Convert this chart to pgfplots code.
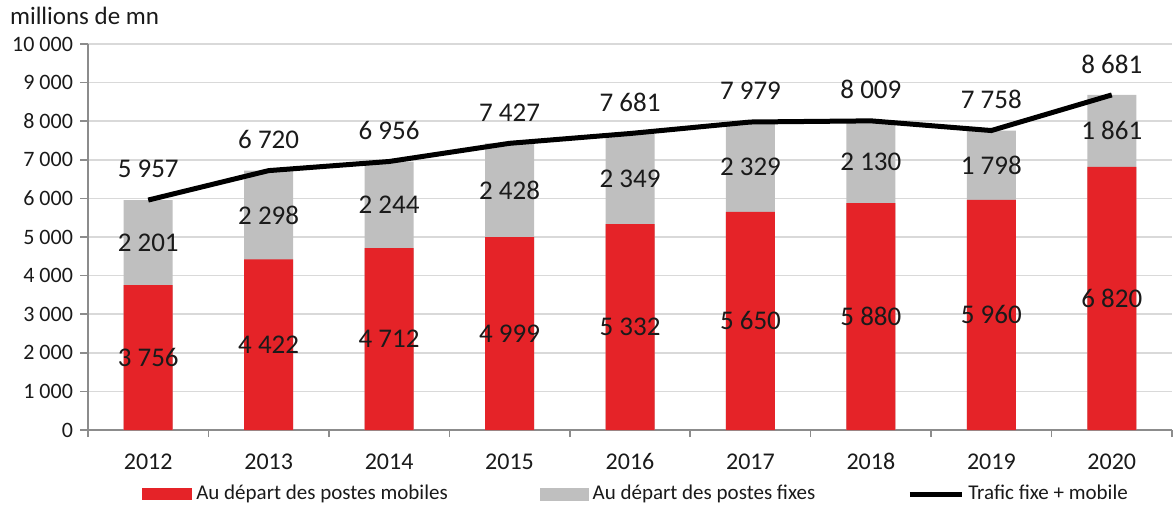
\documentclass[border=0pt]{standalone}
\usepackage{fontspec}
\setmainfont{Carlito}
\usepackage{pgfplots}
\pgfplotsset{compat=1.18}
\usepackage{pgfplotstable}
\usetikzlibrary{calc}

\definecolor{mobred}{HTML}{E52328}
\definecolor{fixgray}{HTML}{BFBFBF}
\definecolor{axgray}{HTML}{8C8C8C}
\definecolor{gridgray}{HTML}{D9D9D9}
\definecolor{txt}{HTML}{1A1A1A}

% trafic en millions de minutes
\pgfplotstableread{
x year mob fix tot
0 2012 3756 2201 5957
1 2013 4422 2298 6720
2 2014 4712 2244 6956
3 2015 4999 2428 7427
4 2016 5332 2349 7681
5 2017 5650 2329 7979
6 2018 5880 2130 8009
7 2019 5960 1798 7758
8 2020 6820 1861 8681
}\traffic

\begin{document}
\begin{tikzpicture}
\begin{axis}[
  name=ax,
  scale only axis,
  width=542pt, height=193pt,
  clip=false,
  bar width=24.5pt,
  xmin=-0.5, xmax=8.5,
  ymin=0, ymax=10000,
  ytick distance=1000,
  scaled y ticks=false,
  xtick={0,...,8},
  xticklabels={2012,2013,2014,2015,2016,2017,2018,2019,2020},
  minor xtick={-0.5,0.5,...,8.5},
  axis x line*=bottom,
  axis y line*=left,
  axis line style={-, axgray, line width=0.8pt},
  tick align=outside,
  major x tick style={draw=none},
  minor x tick style={axgray, line width=0.8pt},
  major y tick style={axgray, line width=0.8pt},
  major tick length=4pt,
  minor tick length=3.5pt,
  ymajorgrids=true,
  grid style={gridgray, line width=0.8pt},
  yticklabel style={font=\fontsize{11}{13}\selectfont, text=txt},
  xticklabel style={font=\fontsize{12}{14}\selectfont, text=txt, yshift=-4pt,
    text height=8pt, text depth=1pt},
  /pgf/number format/.cd, 1000 sep={\ }, assume math mode=true,
  /pgfplots/.cd,
  legend columns=3,
  legend style={at={(0.5065,-0.1658)}, anchor=center, draw=none,
    font=\fontsize{10.5}{12}\selectfont, text=txt,
    /tikz/every even column/.append style={column sep=44pt}},
  nodes near coords style={font=\fontsize{13.5}{15}\selectfont, text=txt, anchor=center},
]
% barres : fixe empile sur mobile
\addplot[ybar, bar shift=0pt, fill=fixgray, draw=none, forget plot]
  table[x=x, y expr=\thisrow{mob}+\thisrow{fix}]{\traffic};
\addplot[ybar, bar shift=0pt, fill=mobred, draw=none,
  legend image code/.code={\fill[mobred] (0pt,-3pt) rectangle (25pt,3pt);}]
  table[x=x, y=mob]{\traffic};
\addlegendimage{legend image code/.code={\fill[fixgray] (0pt,-3pt) rectangle (24pt,3pt);}}
\addplot[sharp plot, black, line width=2.5pt, mark=none,
  legend image code/.code={\draw[black, line width=2.5pt] (0pt,0pt) -- (26pt,0pt);}]
  table[x=x, y=tot]{\traffic};

% etiquettes
\addplot[sharp plot, draw=none, mark=none, forget plot,
  nodes near coords, point meta=explicit]
  table[x=x, y expr=\thisrow{mob}/2, meta=mob]{\traffic};
\addplot[sharp plot, draw=none, mark=none, forget plot,
  nodes near coords, point meta=explicit]
  table[x=x, y expr=\thisrow{mob}+\thisrow{fix}/2, meta=fix]{\traffic};
\addplot[sharp plot, draw=none, mark=none, forget plot,
  nodes near coords, point meta=explicit,
  every node near coord/.append style={yshift=15.5pt}]
  table[x=x, y=tot, meta=tot]{\traffic};

\legend{Au départ des postes mobiles, Au départ des postes fixes, Trafic fixe + mobile}

\node[anchor=west, font=\fontsize{12.5}{14}\selectfont, text=txt]
  at ([xshift=-42.5pt, yshift=14pt]rel axis cs:0,1) {millions de mn};
\end{axis}
\pgfresetboundingbox
\path ($(ax.south west)+(-44pt,-40pt)$) rectangle ($(ax.north east)+(2pt,22pt)$);
\end{tikzpicture}
\end{document}
